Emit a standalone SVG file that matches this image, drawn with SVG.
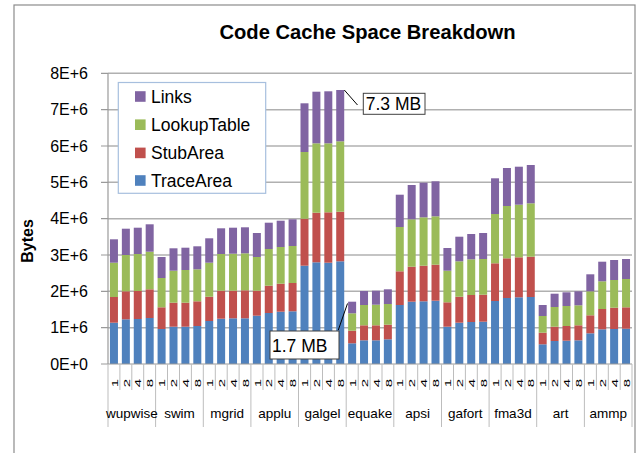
<svg xmlns="http://www.w3.org/2000/svg" width="642" height="453" viewBox="0 0 642 453">
  <style>
    text { font-family: "Liberation Sans", Arial, sans-serif; fill: #000; }
    .grid { stroke: #b0b0b0; stroke-width: 1.4; }
    .axis { stroke: #9a9a9a; stroke-width: 1.2; }
    .sep { stroke: #bdbdbd; stroke-width: 1; }
    .ylab { font-size: 16px; text-anchor: end; }
    .tick { font-size: 10px; text-anchor: middle; }
    .grp { font-size: 13.5px; text-anchor: middle; }
    .leg { font-size: 17.5px; }
    .t { fill: #4f81bd; }
    .s { fill: #c0504d; }
    .l { fill: #9bbb59; }
    .k { fill: #8064a2; }
    .note { fill: #fff; stroke: #404040; stroke-width: 1; }
    .noteText { font-size: 17.5px; }
    .lead { stroke: #000; stroke-width: 1; fill: none; }
  </style>

  <!-- chart frame -->
  <rect x="0" y="0" width="642" height="453" fill="#fff"/>
  <rect x="14" y="5" width="621" height="470" fill="#fff" stroke="#8c8c8c" stroke-width="1.2"/>

  <!-- title -->
  <text x="367.5" y="39" font-size="20.2" font-weight="bold" text-anchor="middle">Code Cache Space Breakdown</text>

  <!-- horizontal gridlines -->
  <g id="gridlines">
    <line class="grid" x1="108" y1="73.3" x2="632" y2="73.3"/>
    <line class="grid" x1="108" y1="109.7" x2="632" y2="109.7"/>
    <line class="grid" x1="108" y1="146" x2="632" y2="146"/>
    <line class="grid" x1="108" y1="182.3" x2="632" y2="182.3"/>
    <line class="grid" x1="108" y1="218.7" x2="632" y2="218.7"/>
    <line class="grid" x1="108" y1="255" x2="632" y2="255"/>
    <line class="grid" x1="108" y1="291.3" x2="632" y2="291.3"/>
    <line class="grid" x1="108" y1="327.7" x2="632" y2="327.7"/>
  </g>

  <!-- value axis -->
  <g id="y-axis">
    <line class="axis" x1="108" y1="73.3" x2="108" y2="364"/>
    <path class="axis" d="M101 73.3H108M101 109.7H108M101 146H108M101 182.3H108M101 218.7H108M101 255H108M101 291.3H108M101 327.7H108M101 364H108"/>
    <text class="ylab" x="88" y="79">8E+6</text>
    <text class="ylab" x="88" y="115.4">7E+6</text>
    <text class="ylab" x="88" y="151.7">6E+6</text>
    <text class="ylab" x="88" y="188">5E+6</text>
    <text class="ylab" x="88" y="224.4">4E+6</text>
    <text class="ylab" x="88" y="260.7">3E+6</text>
    <text class="ylab" x="88" y="297">2E+6</text>
    <text class="ylab" x="88" y="333.4">1E+6</text>
    <text class="ylab" x="88" y="369.7">0E+0</text>
    <text transform="translate(33,241) rotate(-90)" font-size="16" font-weight="bold" text-anchor="middle">Bytes</text>
  </g>

  <!-- stacked bars: TraceArea, StubArea, LookupTable, Links -->
  <g id="bars">
    <g id="bar-wupwise-1" transform="translate(109.95,0)"><rect class="t" width="8" y="322.7" height="41.3"/><rect class="s" width="8" y="297" height="25.7"/><rect class="l" width="8" y="262.7" height="34.3"/><rect class="k" width="8" y="239.3" height="23.4"/></g>
    <g id="bar-wupwise-2" transform="translate(121.86,0)"><rect class="t" width="8" y="319.3" height="44.7"/><rect class="s" width="8" y="291.3" height="28"/><rect class="l" width="8" y="255" height="36.3"/><rect class="k" width="8" y="228.7" height="26.3"/></g>
    <g id="bar-wupwise-4" transform="translate(133.77,0)"><rect class="t" width="8" y="319" height="45"/><rect class="s" width="8" y="291" height="28"/><rect class="l" width="8" y="254" height="37"/><rect class="k" width="8" y="227.7" height="26.3"/></g>
    <g id="bar-wupwise-8" transform="translate(145.68,0)"><rect class="t" width="8" y="318" height="46"/><rect class="s" width="8" y="289.3" height="28.7"/><rect class="l" width="8" y="251.7" height="37.6"/><rect class="k" width="8" y="224.3" height="27.4"/></g>
    <g id="bar-swim-1" transform="translate(157.59,0)"><rect class="t" width="8" y="329" height="35"/><rect class="s" width="8" y="307.3" height="21.7"/><rect class="l" width="8" y="278" height="29.3"/><rect class="k" width="8" y="257" height="21"/></g>
    <g id="bar-swim-2" transform="translate(169.5,0)"><rect class="t" width="8" y="326.7" height="37.3"/><rect class="s" width="8" y="302.7" height="24"/><rect class="l" width="8" y="270.7" height="32"/><rect class="k" width="8" y="248.3" height="22.4"/></g>
    <g id="bar-swim-4" transform="translate(181.4,0)"><rect class="t" width="8" y="326.7" height="37.3"/><rect class="s" width="8" y="302.7" height="24"/><rect class="l" width="8" y="270" height="32.7"/><rect class="k" width="8" y="247.7" height="22.3"/></g>
    <g id="bar-swim-8" transform="translate(193.31,0)"><rect class="t" width="8" y="326" height="38"/><rect class="s" width="8" y="301.3" height="24.7"/><rect class="l" width="8" y="269.3" height="32"/><rect class="k" width="8" y="246.3" height="23"/></g>
    <g id="bar-mgrid-1" transform="translate(205.22,0)"><rect class="t" width="8" y="321" height="43"/><rect class="s" width="8" y="296.7" height="24.3"/><rect class="l" width="8" y="262.7" height="34"/><rect class="k" width="8" y="238.3" height="24.4"/></g>
    <g id="bar-mgrid-2" transform="translate(217.13,0)"><rect class="t" width="8" y="318.7" height="45.3"/><rect class="s" width="8" y="290.7" height="28"/><rect class="l" width="8" y="254" height="36.7"/><rect class="k" width="8" y="228.3" height="25.7"/></g>
    <g id="bar-mgrid-4" transform="translate(229.04,0)"><rect class="t" width="8" y="318.3" height="45.7"/><rect class="s" width="8" y="290.7" height="27.6"/><rect class="l" width="8" y="253.7" height="37"/><rect class="k" width="8" y="227.7" height="26"/></g>
    <g id="bar-mgrid-8" transform="translate(240.95,0)"><rect class="t" width="8" y="318.3" height="45.7"/><rect class="s" width="8" y="290.3" height="28"/><rect class="l" width="8" y="253.3" height="37"/><rect class="k" width="8" y="227.3" height="26"/></g>
    <g id="bar-applu-1" transform="translate(252.86,0)"><rect class="t" width="8" y="315.7" height="48.3"/><rect class="s" width="8" y="290.7" height="25"/><rect class="l" width="8" y="257" height="33.7"/><rect class="k" width="8" y="233" height="24"/></g>
    <g id="bar-applu-2" transform="translate(264.77,0)"><rect class="t" width="8" y="313" height="51"/><rect class="s" width="8" y="285.7" height="27.3"/><rect class="l" width="8" y="249" height="36.7"/><rect class="k" width="8" y="222.7" height="26.3"/></g>
    <g id="bar-applu-4" transform="translate(276.68,0)"><rect class="t" width="8" y="311.7" height="52.3"/><rect class="s" width="8" y="283.7" height="28"/><rect class="l" width="8" y="247" height="36.7"/><rect class="k" width="8" y="220.7" height="26.3"/></g>
    <g id="bar-applu-8" transform="translate(288.59,0)"><rect class="t" width="8" y="311.3" height="52.7"/><rect class="s" width="8" y="283" height="28.3"/><rect class="l" width="8" y="246" height="37"/><rect class="k" width="8" y="219.3" height="26.7"/></g>
    <g id="bar-galgel-1" transform="translate(300.5,0)"><rect class="t" width="8" y="265.7" height="98.3"/><rect class="s" width="8" y="218.7" height="47"/><rect class="l" width="8" y="152" height="66.7"/><rect class="k" width="8" y="103.3" height="48.7"/></g>
    <g id="bar-galgel-2" transform="translate(312.4,0)"><rect class="t" width="8" y="262.3" height="101.7"/><rect class="s" width="8" y="212.7" height="49.6"/><rect class="l" width="8" y="143.3" height="69.4"/><rect class="k" width="8" y="91.7" height="51.6"/></g>
    <g id="bar-galgel-4" transform="translate(324.31,0)"><rect class="t" width="8" y="262.7" height="101.3"/><rect class="s" width="8" y="212.3" height="50.4"/><rect class="l" width="8" y="143.3" height="69"/><rect class="k" width="8" y="91.3" height="52"/></g>
    <g id="bar-galgel-8" transform="translate(336.22,0)"><rect class="t" width="8" y="261.3" height="102.7"/><rect class="s" width="8" y="211.7" height="49.6"/><rect class="l" width="8" y="141.3" height="70.4"/><rect class="k" width="8" y="90" height="51.3"/></g>
    <g id="bar-equake-1" transform="translate(348.13,0)"><rect class="t" width="8" y="343.3" height="20.7"/><rect class="s" width="8" y="330.7" height="12.6"/><rect class="l" width="8" y="313.3" height="17.4"/><rect class="k" width="8" y="301.7" height="11.6"/></g>
    <g id="bar-equake-2" transform="translate(360.04,0)"><rect class="t" width="8" y="340.3" height="23.7"/><rect class="s" width="8" y="325.3" height="15"/><rect class="l" width="8" y="305" height="20.3"/><rect class="k" width="8" y="291" height="14"/></g>
    <g id="bar-equake-4" transform="translate(371.95,0)"><rect class="t" width="8" y="340.3" height="23.7"/><rect class="s" width="8" y="325.3" height="15"/><rect class="l" width="8" y="304.7" height="20.6"/><rect class="k" width="8" y="290.7" height="14"/></g>
    <g id="bar-equake-8" transform="translate(383.86,0)"><rect class="t" width="8" y="339.3" height="24.7"/><rect class="s" width="8" y="324.7" height="14.6"/><rect class="l" width="8" y="304" height="20.7"/><rect class="k" width="8" y="289.3" height="14.7"/></g>
    <g id="bar-apsi-1" transform="translate(395.77,0)"><rect class="t" width="8" y="305" height="59"/><rect class="s" width="8" y="271.3" height="33.7"/><rect class="l" width="8" y="227" height="44.3"/><rect class="k" width="8" y="194.7" height="32.3"/></g>
    <g id="bar-apsi-2" transform="translate(407.68,0)"><rect class="t" width="8" y="301.7" height="62.3"/><rect class="s" width="8" y="266.7" height="35"/><rect class="l" width="8" y="219.3" height="47.4"/><rect class="k" width="8" y="185" height="34.3"/></g>
    <g id="bar-apsi-4" transform="translate(419.59,0)"><rect class="t" width="8" y="301.3" height="62.7"/><rect class="s" width="8" y="265.7" height="35.6"/><rect class="l" width="8" y="217.3" height="48.4"/><rect class="k" width="8" y="182.7" height="34.6"/></g>
    <g id="bar-apsi-8" transform="translate(431.5,0)"><rect class="t" width="8" y="300.7" height="63.3"/><rect class="s" width="8" y="264.7" height="36"/><rect class="l" width="8" y="216.3" height="48.4"/><rect class="k" width="8" y="181.3" height="35"/></g>
    <g id="bar-gafort-1" transform="translate(443.4,0)"><rect class="t" width="8" y="326.7" height="37.3"/><rect class="s" width="8" y="302.3" height="24.4"/><rect class="l" width="8" y="270.7" height="31.6"/><rect class="k" width="8" y="248" height="22.7"/></g>
    <g id="bar-gafort-2" transform="translate(455.31,0)"><rect class="t" width="8" y="322.7" height="41.3"/><rect class="s" width="8" y="296.7" height="26"/><rect class="l" width="8" y="261.3" height="35.4"/><rect class="k" width="8" y="236.7" height="24.6"/></g>
    <g id="bar-gafort-4" transform="translate(467.22,0)"><rect class="t" width="8" y="322" height="42"/><rect class="s" width="8" y="295" height="27"/><rect class="l" width="8" y="259.3" height="35.7"/><rect class="k" width="8" y="234" height="25.3"/></g>
    <g id="bar-gafort-8" transform="translate(479.13,0)"><rect class="t" width="8" y="321.7" height="42.3"/><rect class="s" width="8" y="294.7" height="27"/><rect class="l" width="8" y="259" height="35.7"/><rect class="k" width="8" y="233" height="26"/></g>
    <g id="bar-fma3d-1" transform="translate(491.04,0)"><rect class="t" width="8" y="301" height="63"/><rect class="s" width="8" y="263.3" height="37.7"/><rect class="l" width="8" y="214" height="49.3"/><rect class="k" width="8" y="178.3" height="35.7"/></g>
    <g id="bar-fma3d-2" transform="translate(502.95,0)"><rect class="t" width="8" y="298" height="66"/><rect class="s" width="8" y="258.3" height="39.7"/><rect class="l" width="8" y="206" height="52.3"/><rect class="k" width="8" y="168" height="38"/></g>
    <g id="bar-fma3d-4" transform="translate(514.86,0)"><rect class="t" width="8" y="297.3" height="66.7"/><rect class="s" width="8" y="257.3" height="40"/><rect class="l" width="8" y="204.7" height="52.6"/><rect class="k" width="8" y="166.7" height="38"/></g>
    <g id="bar-fma3d-8" transform="translate(526.77,0)"><rect class="t" width="8" y="297" height="67"/><rect class="s" width="8" y="256.7" height="40.3"/><rect class="l" width="8" y="203.3" height="53.4"/><rect class="k" width="8" y="165" height="38.3"/></g>
    <g id="bar-art-1" transform="translate(538.68,0)"><rect class="t" width="8" y="344.3" height="19.7"/><rect class="s" width="8" y="332.7" height="11.6"/><rect class="l" width="8" y="316" height="16.7"/><rect class="k" width="8" y="305" height="11"/></g>
    <g id="bar-art-2" transform="translate(550.59,0)"><rect class="t" width="8" y="341" height="23"/><rect class="s" width="8" y="326.7" height="14.3"/><rect class="l" width="8" y="307" height="19.7"/><rect class="k" width="8" y="293.7" height="13.3"/></g>
    <g id="bar-art-4" transform="translate(562.5,0)"><rect class="t" width="8" y="340.7" height="23.3"/><rect class="s" width="8" y="326" height="14.7"/><rect class="l" width="8" y="306" height="20"/><rect class="k" width="8" y="292.3" height="13.7"/></g>
    <g id="bar-art-8" transform="translate(574.4,0)"><rect class="t" width="8" y="340.3" height="23.7"/><rect class="s" width="8" y="325.3" height="15"/><rect class="l" width="8" y="305.3" height="20"/><rect class="k" width="8" y="291.3" height="14"/></g>
    <g id="bar-ammp-1" transform="translate(586.31,0)"><rect class="t" width="8" y="333.3" height="30.7"/><rect class="s" width="8" y="315.3" height="18"/><rect class="l" width="8" y="291.3" height="24"/><rect class="k" width="8" y="274.3" height="17"/></g>
    <g id="bar-ammp-2" transform="translate(598.22,0)"><rect class="t" width="8" y="329.3" height="34.7"/><rect class="s" width="8" y="309" height="20.3"/><rect class="l" width="8" y="281.3" height="27.7"/><rect class="k" width="8" y="261.7" height="19.6"/></g>
    <g id="bar-ammp-4" transform="translate(610.13,0)"><rect class="t" width="8" y="329" height="35"/><rect class="s" width="8" y="307.7" height="21.3"/><rect class="l" width="8" y="280" height="27.7"/><rect class="k" width="8" y="260" height="20"/></g>
    <g id="bar-ammp-8" transform="translate(622.04,0)"><rect class="t" width="8" y="328.7" height="35.3"/><rect class="s" width="8" y="307.3" height="21.4"/><rect class="l" width="8" y="279" height="28.3"/><rect class="k" width="8" y="259" height="20"/></g>
  </g>

  <!-- category axis -->
  <g id="x-axis">
    <line class="axis" x1="108" y1="364" x2="632" y2="364"/>
    <path class="sep" d="M119.9 364V390M131.8 364V390M143.7 364V390M167.5 364V390M179.5 364V390M191.4 364V390M215.3 364V390M227.2 364V390M239.1 364V390M263 364V390M274.9 364V390M286.8 364V390M310.6 364V390M322.5 364V390M334.4 364V390M358.2 364V390M370.1 364V390M382 364V390M405.8 364V390M417.7 364V390M429.6 364V390M453.5 364V390M465.4 364V390M477.3 364V390M501.1 364V390M513 364V390M524.9 364V390M548.7 364V390M560.6 364V390M572.5 364V390M596.4 364V390M608.3 364V390M620.2 364V390"/>
    <path class="sep" d="M108 364V427M155.6 364V427M203.3 364V427M250.9 364V427M298.5 364V427M346.2 364V427M393.8 364V427M441.5 364V427M489.1 364V427M536.7 364V427M584.4 364V427M632 364V427"/>
  </g>

  <!-- thread-count tick labels (1, 2, 4, 8 per benchmark) -->
  <g id="tick-labels">
    <text class="tick" transform="translate(117.6,383) rotate(-90) scale(1.5,0.85)">1</text>
    <text class="tick" transform="translate(129.5,383) rotate(-90) scale(1.5,0.85)">2</text>
    <text class="tick" transform="translate(141.4,383) rotate(-90) scale(1.5,0.85)">4</text>
    <text class="tick" transform="translate(153.3,383) rotate(-90) scale(1.5,0.85)">8</text>
    <text class="tick" transform="translate(165.2,383) rotate(-90) scale(1.5,0.85)">1</text>
    <text class="tick" transform="translate(177.1,383) rotate(-90) scale(1.5,0.85)">2</text>
    <text class="tick" transform="translate(189,383) rotate(-90) scale(1.5,0.85)">4</text>
    <text class="tick" transform="translate(200.9,383) rotate(-90) scale(1.5,0.85)">8</text>
    <text class="tick" transform="translate(212.9,383) rotate(-90) scale(1.5,0.85)">1</text>
    <text class="tick" transform="translate(224.8,383) rotate(-90) scale(1.5,0.85)">2</text>
    <text class="tick" transform="translate(236.7,383) rotate(-90) scale(1.5,0.85)">4</text>
    <text class="tick" transform="translate(248.6,383) rotate(-90) scale(1.5,0.85)">8</text>
    <text class="tick" transform="translate(260.5,383) rotate(-90) scale(1.5,0.85)">1</text>
    <text class="tick" transform="translate(272.4,383) rotate(-90) scale(1.5,0.85)">2</text>
    <text class="tick" transform="translate(284.3,383) rotate(-90) scale(1.5,0.85)">4</text>
    <text class="tick" transform="translate(296.2,383) rotate(-90) scale(1.5,0.85)">8</text>
    <text class="tick" transform="translate(308.1,383) rotate(-90) scale(1.5,0.85)">1</text>
    <text class="tick" transform="translate(320,383) rotate(-90) scale(1.5,0.85)">2</text>
    <text class="tick" transform="translate(332,383) rotate(-90) scale(1.5,0.85)">4</text>
    <text class="tick" transform="translate(343.9,383) rotate(-90) scale(1.5,0.85)">8</text>
    <text class="tick" transform="translate(355.8,383) rotate(-90) scale(1.5,0.85)">1</text>
    <text class="tick" transform="translate(367.7,383) rotate(-90) scale(1.5,0.85)">2</text>
    <text class="tick" transform="translate(379.6,383) rotate(-90) scale(1.5,0.85)">4</text>
    <text class="tick" transform="translate(391.5,383) rotate(-90) scale(1.5,0.85)">8</text>
    <text class="tick" transform="translate(403.4,383) rotate(-90) scale(1.5,0.85)">1</text>
    <text class="tick" transform="translate(415.3,383) rotate(-90) scale(1.5,0.85)">2</text>
    <text class="tick" transform="translate(427.2,383) rotate(-90) scale(1.5,0.85)">4</text>
    <text class="tick" transform="translate(439.1,383) rotate(-90) scale(1.5,0.85)">8</text>
    <text class="tick" transform="translate(451.1,383) rotate(-90) scale(1.5,0.85)">1</text>
    <text class="tick" transform="translate(463,383) rotate(-90) scale(1.5,0.85)">2</text>
    <text class="tick" transform="translate(474.9,383) rotate(-90) scale(1.5,0.85)">4</text>
    <text class="tick" transform="translate(486.8,383) rotate(-90) scale(1.5,0.85)">8</text>
    <text class="tick" transform="translate(498.7,383) rotate(-90) scale(1.5,0.85)">1</text>
    <text class="tick" transform="translate(510.6,383) rotate(-90) scale(1.5,0.85)">2</text>
    <text class="tick" transform="translate(522.5,383) rotate(-90) scale(1.5,0.85)">4</text>
    <text class="tick" transform="translate(534.4,383) rotate(-90) scale(1.5,0.85)">8</text>
    <text class="tick" transform="translate(546.3,383) rotate(-90) scale(1.5,0.85)">1</text>
    <text class="tick" transform="translate(558.2,383) rotate(-90) scale(1.5,0.85)">2</text>
    <text class="tick" transform="translate(570.1,383) rotate(-90) scale(1.5,0.85)">4</text>
    <text class="tick" transform="translate(582,383) rotate(-90) scale(1.5,0.85)">8</text>
    <text class="tick" transform="translate(594,383) rotate(-90) scale(1.5,0.85)">1</text>
    <text class="tick" transform="translate(605.9,383) rotate(-90) scale(1.5,0.85)">2</text>
    <text class="tick" transform="translate(617.8,383) rotate(-90) scale(1.5,0.85)">4</text>
    <text class="tick" transform="translate(629.7,383) rotate(-90) scale(1.5,0.85)">8</text>
  </g>

  <!-- benchmark names -->
  <g id="group-labels">
    <text class="grp" x="131.8" y="418">wupwise</text>
    <text class="grp" x="179.5" y="418">swim</text>
    <text class="grp" x="227.1" y="418">mgrid</text>
    <text class="grp" x="274.7" y="418">applu</text>
    <text class="grp" x="322.4" y="418">galgel</text>
    <text class="grp" x="370" y="418">equake</text>
    <text class="grp" x="417.6" y="418">apsi</text>
    <text class="grp" x="465.3" y="418">gafort</text>
    <text class="grp" x="512.9" y="418">fma3d</text>
    <text class="grp" x="560.6" y="418">art</text>
    <text class="grp" x="608.2" y="418">ammp</text>
  </g>

  <!-- legend -->
  <g id="legend">
    <rect x="118.3" y="82.5" width="147.4" height="110.8" fill="#fff" stroke="#a7bfde" stroke-width="1.2"/>
    <rect class="k" x="135" y="91.2" width="10.6" height="10.6"/>
    <text class="leg" x="151" y="102.7">Links</text>
    <rect class="l" x="135" y="119.4" width="10.6" height="10.6"/>
    <text class="leg" x="151" y="130.9">LookupTable</text>
    <rect class="s" x="135" y="147.6" width="10.6" height="10.6"/>
    <text class="leg" x="151" y="159.1">StubArea</text>
    <rect class="t" x="135" y="175.2" width="10.6" height="10.6"/>
    <text class="leg" x="151" y="186.7">TraceArea</text>
  </g>

  <!-- callouts -->
  <g id="callout-max">
    <line class="lead" x1="344.3" y1="90" x2="357.5" y2="105"/>
    <rect class="note" x="363.3" y="93.3" width="61.7" height="21"/>
    <text class="noteText" x="365.7" y="109.5">7.3 MB</text>
  </g>
  <g id="callout-min">
    <line class="lead" x1="338.3" y1="330" x2="347.5" y2="303.5"/>
    <rect class="note" x="270" y="331" width="69" height="28"/>
    <text class="noteText" x="272" y="351.7">1.7 MB</text>
  </g>
</svg>
